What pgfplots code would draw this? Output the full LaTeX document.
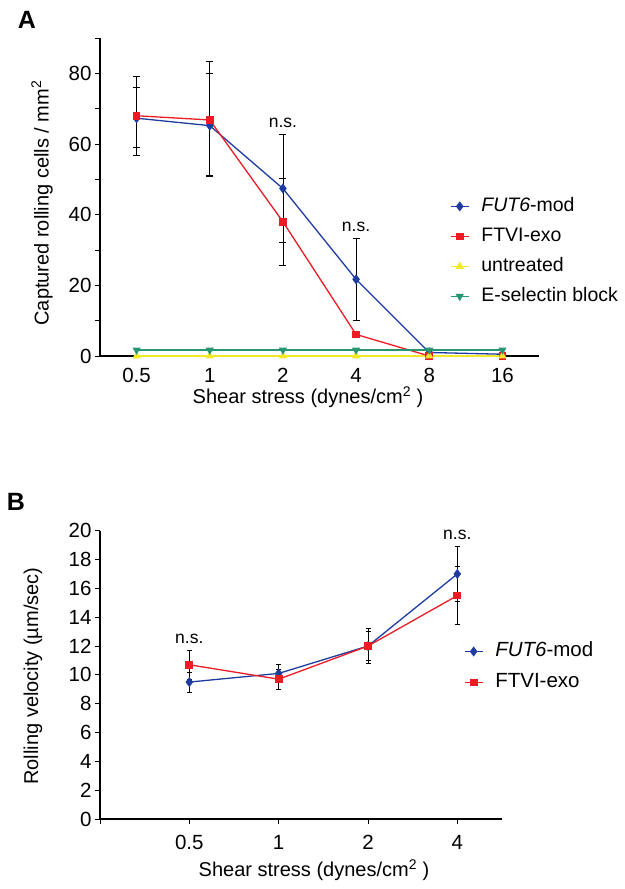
\documentclass[border=0pt]{standalone}
\usepackage{pgfplots}
\pgfplotsset{compat=1.18}
\usepackage{fontspec}
\setmainfont{Liberation Sans}
\definecolor{cblue}{RGB}{30,60,160}
\definecolor{cred}{RGB}{237,28,36}
\definecolor{cyellow}{RGB}{240,232,40}
\definecolor{cgreen}{RGB}{40,150,110}

\pgfplotstableread{
x y ep em
0 67.3 11.7 10.5
1 65.2 18.1 14.5
2 47.4 15.3 15.3
3 21.7 11.7 11.7
4 1.0 0 0
5 0.5 0 0
}\Ablue
\pgfplotstableread{
x y ep em
0 68.0 8.0 9.0
1 66.8 13.2 15.8
2 38.0 12.4 12.4
3 6.1 0 0
4 0 0 0
5 0 0 0
}\Ared
\pgfplotstableread{
x y
0 0
1 0
2 0
3 0
4 0
5 0
}\Ayellow
\pgfplotstableread{
x y
0 1.7
1 1.7
2 1.7
3 1.7
4 1.7
5 1.7
}\Agreen
\pgfplotstableread{
x y ep em
0 9.5 0.7 0.7
1 10.1 0.6 0.6
2 12.0 1.2 1.2
3 17.0 1.9 1.9
}\Bblue
\pgfplotstableread{
x y ep em
0 10.7 1.0 1.0
1 9.7 0.7 0.7
2 12.0 1.0 1.0
3 15.5 2.0 2.0
}\Bred

\pgfplotsset{
  myaxis/.style={
    scale only axis, clip=false,
    axis x line=bottom, axis y line=left,
    axis line style={line width=1.6pt,-,black},
    tick align=outside, major tick length=5pt,
    tick style={line width=1pt,black},
    /pgf/number format/assume math mode=true,
    ticklabel style={font=\fontsize{20.5}{24}\selectfont, black},
    legend cell align=left,
    legend style={draw=none, fill=none, anchor=north west, inner sep=0pt,
      nodes={text height=13.5pt, text depth=4pt},
      /tikz/every odd column/.append style={column sep=10pt}},
    legend image code/.code={\draw[mark repeat=2,mark phase=2,##1] plot coordinates {(0pt,0pt) (9pt,0pt) (18pt,0pt)};},
    error bars/error bar style={line width=0.8pt,black},
    error bars/error mark options={rotate=90,mark size=3.5pt,line width=0.8pt,black},
  },
  lblue/.style={color=cblue, line width=1.3pt, mark=diamond*, mark size=4pt, mark options={fill=cblue}},
  lred/.style={color=cred, line width=1.3pt, mark=square*, mark size=3.2pt, mark options={fill=cred}},
  lyellow/.style={color=cyellow, line width=1.3pt, mark=triangle*, mark size=3.5pt, mark options={fill=cyellow}},
  lgreen/.style={color=cgreen, line width=1.3pt, mark=triangle*, mark size=3.5pt, mark options={fill=cgreen, rotate=180}},
}

\begin{document}
\begin{tikzpicture}
\path[use as bounding box] (0pt,0pt) rectangle (624pt,-889pt);

% Panel A
\begin{axis}[myaxis,
  at={(100pt,-356pt)}, anchor=south west,
  width=439pt, height=318pt,
  xmin=-0.5, xmax=5.5, ymin=0, ymax=90,
  xtick={0,1,2,3,4,5}, xticklabels={0.5,1,2,4,8,16},
  x tick style={draw=none},
  xticklabel style={yshift=-4pt},
  ytick={0,10,...,90}, yticklabels={0,,20,,40,,60,,80,},
  legend style={at={(0.797,0.505)}, font=\fontsize{19.5}{23}\selectfont, row sep=8.5pt},
]
\addplot+[lblue, error bars/.cd, y dir=both, y explicit] table[x=x,y=y,y error plus=ep,y error minus=em]{\Ablue};
\addlegendentry{\textit{FUT6}-mod}
\addplot+[lred, error bars/.cd, y dir=both, y explicit] table[x=x,y=y,y error plus=ep,y error minus=em]{\Ared};
\addlegendentry{FTVI-exo}
\addplot+[lyellow] table[x=x,y=y]{\Ayellow};
\addlegendentry{untreated}
\addplot+[lgreen] table[x=x,y=y]{\Agreen};
\addlegendentry{E-selectin block}
\node[font=\fontsize{17.5}{20}\selectfont] at (axis cs:2,66) {n.s.};
\node[font=\fontsize{17.5}{20}\selectfont] at (axis cs:3,36.6) {n.s.};
\end{axis}

% Panel B
\begin{axis}[myaxis,
  at={(100pt,-819pt)}, anchor=south west,
  width=402pt, height=288.3pt,
  xmin=-1, xmax=3.5, ymin=0, ymax=20,
  xtick={-1,0,1,2,3}, xticklabels={,0.5,1,2,4},
  xticklabel style={yshift=-8pt},
  ytick={0,2,...,20},
  error bars/error mark options={rotate=90,mark size=2.5pt,line width=0.8pt,black},
  legend style={at={(0.905,0.619)}, font=\fontsize{20.5}{24}\selectfont, row sep=9.5pt},
]
\addplot+[lblue, error bars/.cd, y dir=both, y explicit] table[x=x,y=y,y error plus=ep,y error minus=em]{\Bblue};
\addlegendentry{\textit{FUT6}-mod}
\addplot+[lred, error bars/.cd, y dir=both, y explicit] table[x=x,y=y,y error plus=ep,y error minus=em]{\Bred};
\addlegendentry{FTVI-exo}
\node[font=\fontsize{17.5}{20}\selectfont] at (axis cs:0,12.5) {n.s.};
\node[font=\fontsize{17.5}{20}\selectfont] at (axis cs:3,19.7) {n.s.};
\end{axis}

% labels
\node[font=\fontsize{25}{30}\selectfont\bfseries] at (27pt,-20pt) {A};
\node[font=\fontsize{25}{30}\selectfont\bfseries] at (16pt,-502pt) {B};
\node[rotate=90, font=\fontsize{20}{24}\selectfont] at (42pt,-203pt) {Captured rolling cells / mm\textsuperscript{2}};
\node[font=\fontsize{20}{24}\selectfont] at (308pt,-397pt) {Shear stress (dynes/cm\textsuperscript{2} )};
\node[rotate=90, font=\fontsize{20}{24}\selectfont] at (33pt,-676pt) {Rolling velocity (µm/sec)};
\node[font=\fontsize{20}{24}\selectfont] at (314pt,-870pt) {Shear stress (dynes/cm\textsuperscript{2} )};
\end{tikzpicture}
\end{document}
